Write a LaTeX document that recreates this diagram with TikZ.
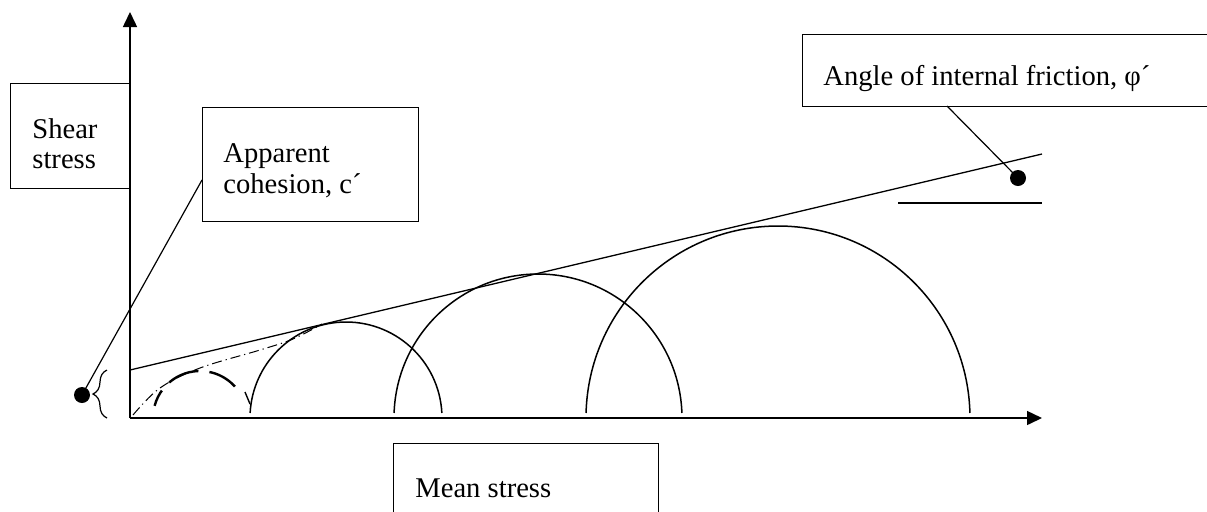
\documentclass[tikz,border=0pt]{standalone}
\usepackage{fontspec}
\setmainfont{Liberation Serif}
\usetikzlibrary{arrows.meta,decorations.pathreplacing}
\tikzset{
  lbl/.style={inner sep=0pt, anchor=base west, font=\fontsize{14.3pt}{17pt}\selectfont},
  lblbox/.style={draw, line width=0.6pt, anchor=north west, inner sep=0pt},
  dotnode/.style={circle, fill=black, inner sep=0pt, minimum size=8pt},
  axisline/.style={line width=0.75pt, -{Triangle[length=7.5pt,width=7pt]}},
  thinline/.style={line width=0.6pt},
  circ/.style={line width=0.75pt},
  dashcirc/.style={line width=1.2pt, dash pattern=on 16pt off 5.5pt, dash phase=7.5pt},
  dashdotline/.style={line width=0.5pt, dash pattern=on 5pt off 2pt on 0.6pt off 2pt}
}
\begin{document}
\begin{tikzpicture}[x=0.5pt,y=-0.5pt]
\useasboundingbox (0,0) rectangle (1207,511);
% axes
\coordinate (O) at (130,418);
\coordinate (ytip) at (130,12);
\coordinate (xtip) at (1042,418);
\draw[axisline] (O) -- (ytip);
\draw[axisline] (O) -- (xtip);
% envelope
\coordinate (cint) at (130,370);
\coordinate (envend) at (1042,154);
\draw[line width=0.65pt] (cint) -- (envend);
% angle reference line
\coordinate (hl1) at (898,203);
\coordinate (hl2) at (1042,203);
\draw[thinline] (hl1) -- (hl2);
% circles
\draw[circ] ([shift={(346,418)}]3:48pt) arc (3:177:48pt);
\draw[circ] ([shift={(538,418)}]2:72pt) arc (2:178:72pt);
\draw[circ] ([shift={(778,418)}]1.5:96pt) arc (1.5:178.5:96pt);
\draw[line width=0.7pt] (245,392) -- (250,404);
% dashed small circle
\draw[dashcirc] ([shift={(200,418)}]165:23.5pt) arc (165:42:23.5pt);
% dash-dot curve
\draw[dashdotline] plot[smooth, tension=0.6] coordinates {(133,415) (160,388) (200,368) (260,350) (293,339) (322,324)};
% brace
\draw[line width=0.6pt, decorate, decoration={brace, amplitude=7pt}] (107,418) -- (107,370);
% label boxes
\node[lblbox, minimum width=60pt, minimum height=52.5pt] (shearbox) at (10,83) {};
\node[lbl] (shear1) at (32,138) {Shear};
\node[lbl] (shear2) at (32,168) {stress};
\node[lblbox, minimum width=108pt, minimum height=57pt] (appbox) at (202,107) {};
\node[lbl] (app1) at (223,162) {Apparent};
\node[lbl] (app2) at (223,193) {cohesion, c´};
\node[lblbox, minimum width=206.5pt, minimum height=36pt] (anglebox) at (802,34) {};
\node[lbl] (angtxt) at (823,85) {Angle of internal friction, φ´};
\node[lblbox, minimum width=132.5pt, minimum height=41pt] (meanbox) at (393,443) {};
\node[lbl] (meantxt) at (415,497) {Mean stress};
% dots and leaders
\node[dotnode] (cdot) at (82,395) {};
\node[dotnode] (phidot) at (1018,178) {};
\coordinate (appleader) at (202,180);
\coordinate (angleader) at (947,106);
\draw[thinline] (appleader) -- (cdot.center);
\draw[thinline] (angleader) -- (phidot.center);
\end{tikzpicture}
\end{document}
